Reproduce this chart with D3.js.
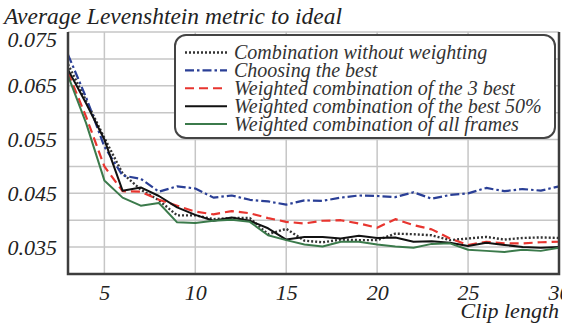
<!DOCTYPE html>
<html>
<head>
<meta charset="utf-8">
<script src="https://cdn.jsdelivr.net/npm/d3@7"></script>
<style>
  html, body { margin: 0; padding: 0; background: #fff; }
  svg { display: block; }
</style>
</head>
<body>
<svg id="chart" width="562" height="323"></svg>
<script>
// Clip lengths on the x axis
const clipLengths = d3.range(3, 31);

// Average Levenshtein metric per clip length, one array per method
const combinationNoWeight = [0.0690, 0.0622, 0.0553, 0.0487, 0.0457, 0.0437, 0.0409, 0.0409, 0.0402, 0.0404, 0.0404, 0.0374, 0.0384, 0.0362, 0.0359, 0.0364, 0.0363, 0.0363, 0.0375, 0.0374, 0.0372, 0.0363, 0.0366, 0.0369, 0.0364, 0.0367, 0.0368, 0.0367];
const choosingBest = [0.0708, 0.0628, 0.0537, 0.0483, 0.0477, 0.0453, 0.0463, 0.0459, 0.0442, 0.0446, 0.0438, 0.0435, 0.0429, 0.0437, 0.0436, 0.0442, 0.0446, 0.0445, 0.0443, 0.0452, 0.0440, 0.0447, 0.0450, 0.0460, 0.0454, 0.0458, 0.0455, 0.0463];
const weightedBest3 = [0.0675, 0.0592, 0.0500, 0.0454, 0.0453, 0.0438, 0.0427, 0.0416, 0.0411, 0.0417, 0.0413, 0.0404, 0.0397, 0.0394, 0.0399, 0.0400, 0.0394, 0.0386, 0.0402, 0.0391, 0.0383, 0.0366, 0.0354, 0.0360, 0.0357, 0.0357, 0.0359, 0.0360];
const weightedBest50 = [0.0680, 0.0617, 0.0550, 0.0455, 0.0461, 0.0445, 0.0424, 0.0410, 0.0399, 0.0405, 0.0399, 0.0385, 0.0364, 0.0369, 0.0369, 0.0366, 0.0371, 0.0367, 0.0368, 0.0360, 0.0361, 0.0358, 0.0352, 0.0358, 0.0354, 0.0350, 0.0349, 0.0350];
const weightedAll = [0.0669, 0.0580, 0.0474, 0.0442, 0.0427, 0.0432, 0.0396, 0.0395, 0.0399, 0.0401, 0.0397, 0.0372, 0.0363, 0.0355, 0.0351, 0.0360, 0.0360, 0.0355, 0.0351, 0.0349, 0.0356, 0.0357, 0.0345, 0.0343, 0.0341, 0.0345, 0.0343, 0.0349];

const seriesNames = [
  "Combination without weighting",
  "Choosing the best",
  "Weighted combination of the 3 best",
  "Weighted combination of the best 50%",
  "Weighted combination of all frames"
];
const seriesValues = [combinationNoWeight, choosingBest, weightedBest3, weightedBest50, weightedAll];

const xTicks = [5, 10, 15, 20, 25, 30];
const yTickLabels = [0.035, 0.045, 0.055, 0.065, 0.075];
const yGrid = [0.035, 0.040, 0.045, 0.050, 0.055, 0.060, 0.065, 0.070, 0.075];

const yTitle = "Average Levenshtein metric to ideal";
const xTitle = "Clip length";

const serif = '"Liberation Serif", "Times New Roman", Times, Tinos, "DejaVu Serif", serif';

// Line styles per series
const styles = [
  { color: "#333333", width: 2.4, dash: "2,2" },
  { color: "#2a3f96", width: 2.2, dash: "9,3,2.5,3" },
  { color: "#e8352f", width: 2.2, dash: "9,5" },
  { color: "#111111", width: 2, dash: null },
  { color: "#3b7a4b", width: 2, dash: null }
];

const svg = d3.select("#chart");
const plot = { left: 68, right: 559, top: 32, bottom: 274 };

const x = d3.scaleLinear().domain([3, 30]).range([plot.left, plot.right]);
const y = d3.scaleLinear().domain([0.030, 0.075]).range([plot.bottom, plot.top]);

function styleText(sel, size, color) {
  sel.style("font-family", serif)
     .style("font-style", "italic")
     .style("font-size", size + "px")
     .style("fill", color || "#222");
}

// Grid lines
const grid = svg.append("g").attr("stroke", "#c6c6c6").attr("stroke-width", 1.5);
grid.selectAll("line.h").data(yGrid).enter().append("line")
  .attr("x1", plot.left).attr("x2", plot.right)
  .attr("y1", d => y(d)).attr("y2", d => y(d));
grid.selectAll("line.v").data(xTicks).enter().append("line")
  .attr("y1", plot.top).attr("y2", plot.bottom)
  .attr("x1", d => x(d)).attr("x2", d => x(d));

// Series lines
const line = d3.line().x((d, i) => x(clipLengths[i])).y(d => y(d));
const lines = svg.append("g").attr("fill", "none");
seriesValues.forEach((vals, i) => {
  const s = styles[i];
  lines.append("path")
    .datum(vals)
    .attr("d", line)
    .attr("stroke", s.color)
    .attr("stroke-width", s.width)
    .attr("stroke-dasharray", s.dash)
    .attr("stroke-linejoin", "round");
});

// Plot frame: left, bottom and right edges
svg.append("path")
  .attr("d", `M${plot.left},${plot.top}V${plot.bottom}H${plot.right}V${plot.top}`)
  .attr("fill", "none").attr("stroke", "#3d3d3d").attr("stroke-width", 2.5);

// Y axis labels
const yAxis = d3.axisLeft(y).tickValues(yTickLabels).tickSize(0).tickPadding(0)
  .tickFormat(d3.format(".3f"));
const gy = svg.append("g").attr("transform", `translate(${plot.left - 11},0)`).call(yAxis);
gy.select(".domain").remove();
gy.selectAll("text")
  .call(styleText, 22)
  .attr("dy", d => d === 0.075 ? "0.68em" : "0.32em");

// X axis labels
const xAxis = d3.axisBottom(x).tickValues(xTicks).tickSize(0).tickPadding(0);
const gx = svg.append("g").attr("transform", `translate(0,${plot.bottom + 11})`).call(xAxis);
gx.select(".domain").remove();
gx.selectAll("text").call(styleText, 22).attr("dy", "0.68em");

// Axis titles
svg.append("text").attr("x", 4).attr("y", 24).text(yTitle).call(styleText, 23.5);
svg.append("text").attr("x", 559).attr("y", 317.5)
  .attr("text-anchor", "end").text(xTitle).call(styleText, 22);

// Legend
const legend = svg.append("g");
legend.append("rect")
  .attr("x", 175).attr("y", 35).attr("width", 380).attr("height", 103)
  .attr("rx", 11).attr("ry", 11)
  .attr("fill", "#fff").attr("stroke", "#444").attr("stroke-width", 2);
const rowY = d3.scaleLinear().domain([0, 4]).range([52.5, 124]);
seriesNames.forEach((name, i) => {
  const s = styles[i];
  const yy = rowY(i);
  legend.append("line")
    .attr("x1", 185).attr("x2", 227).attr("y1", yy).attr("y2", yy)
    .attr("stroke", s.color).attr("stroke-width", s.width)
    .attr("stroke-dasharray", s.dash);
  legend.append("text")
    .attr("x", 234).attr("y", yy + 6.5)
    .text(name)
    .call(styleText, 20, "#333");
});
</script>
</body>
</html>
